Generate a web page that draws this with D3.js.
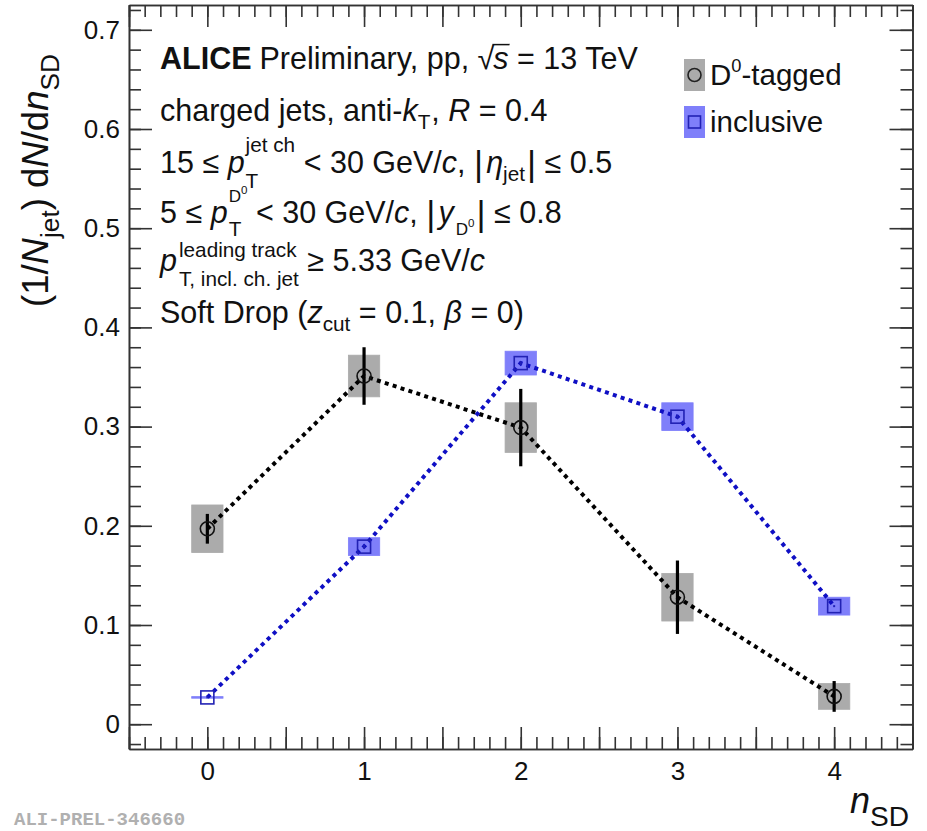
<!DOCTYPE html>
<html>
<head>
<meta charset="utf-8">
<script src="https://cdn.jsdelivr.net/npm/d3@7"></script>
<style>
  body { margin: 0; background: #fff; }
  svg { font-family: "Liberation Sans", Arial, Helvetica, sans-serif; }
  text { white-space: pre; }
</style>
</head>
<body>
<svg id="chart" width="927" height="831"></svg>
<script>
// values
const nSD = [0, 1, 2, 3, 4];
const d0Val = [0.197, 0.351, 0.299, 0.128, 0.028];
const d0Stat = [0.015, 0.029, 0.039, 0.037, 0.0155];
const d0Sys = [0.024, 0.021, 0.025, 0.024, 0.013];
const inclVal = [0.027, 0.179, 0.364, 0.310, 0.119];
const inclStat = [0.001, 0.002, 0.002, 0.002, 0.001];
const inclSys = [0.0008, 0.009, 0.012, 0.014, 0.009];
const xTicks = [0, 1, 2, 3, 4];
const yTicks = [0, 0.1, 0.2, 0.3, 0.4, 0.5, 0.6, 0.7];

const svg = d3.select("#chart");
svg.append("rect").attr("width", 927).attr("height", 831).attr("fill", "#fff");

const x = d3.scaleLinear().domain([-0.5, 4.5]).range([129, 912.5]);
const y = d3.scaleLinear().domain([-0.025, 0.725]).range([749, 5]);

const axisColor = "#333";
const boxHalf = 0.1; // half width of systematic boxes in n_SD units

// small helper to lay out ROOT-like latex pieces
function place(g, x0, y0, items, size) {
    let cx = x0;
    items.forEach(it => {
        if (it.stack) {
            let w = 0;
            it.stack.forEach(part => {
                w = Math.max(w, place(g, cx + (part.dx || 0), y0, part.items, size) - cx);
            });
            cx += w;
        } else {
            const t = g.append("text")
                .attr("x", cx + (it.dx || 0))
                .attr("y", y0 + (it.dy || 0))
                .style("font-size", (it.s || 1) * size + "px")
                .style("font-style", it.i ? "italic" : "normal")
                .style("font-weight", it.b ? "bold" : "normal")
                .text(it.t);
            cx += t.node().getComputedTextLength() + (it.dx || 0) + (it.after || 0);
        }
    });
    return cx;
}

// ---- axes ----
function minorVals(step, lo, hi) {
    const out = [];
    for (let v = Math.ceil(lo / step) * step; v <= hi + 1e-9; v += step) out.push(+v.toFixed(4));
    return out;
}
const xMinor = minorVals(0.1, -0.5, 4.5);
const xHalf = minorVals(0.5, -0.5, 4.5);
const yMinor = minorVals(0.02, -0.025, 0.725);

function styleAxis(sel) {
    sel.selectAll("path, line").attr("stroke", axisColor).attr("stroke-width", 1.6);
    sel.selectAll("text").attr("fill", "#111").style("font-size", "26px")
        .style("font-family", "'Liberation Sans', Arial, sans-serif");
}

svg.append("g").attr("transform", "translate(0,749)")
    .call(d3.axisBottom(x).tickValues(xMinor).tickSizeInner(-12).tickSizeOuter(0).tickFormat(""))
    .call(styleAxis);
svg.append("g").attr("transform", "translate(0,749)")
    .call(d3.axisBottom(x).tickValues(xHalf).tickSizeInner(-22).tickSizeOuter(0).tickPadding(13)
        .tickFormat(d => xTicks.includes(d) ? d3.format("d")(d) : ""))
    .call(styleAxis);
svg.append("g").attr("transform", "translate(0,5)")
    .call(d3.axisTop(x).tickValues(xMinor).tickSizeInner(-12).tickSizeOuter(0).tickFormat(""))
    .call(styleAxis);
svg.append("g").attr("transform", "translate(0,5)")
    .call(d3.axisTop(x).tickValues(xHalf).tickSizeInner(-22).tickSizeOuter(0).tickFormat(""))
    .call(styleAxis);

svg.append("g").attr("transform", "translate(129,0)")
    .call(d3.axisLeft(y).tickValues(yMinor).tickSizeInner(-12).tickSizeOuter(0).tickFormat(""))
    .call(styleAxis);
svg.append("g").attr("transform", "translate(129,0)")
    .call(d3.axisLeft(y).tickValues(yTicks).tickSizeInner(-23).tickSizeOuter(0).tickPadding(9)
        .tickFormat(d => d === 0 ? "0" : d3.format(".1f")(d)))
    .call(styleAxis);
svg.append("g").attr("transform", "translate(912.5,0)")
    .call(d3.axisRight(y).tickValues(yMinor).tickSizeInner(-12).tickSizeOuter(0).tickFormat(""))
    .call(styleAxis);
svg.append("g").attr("transform", "translate(912.5,0)")
    .call(d3.axisRight(y).tickValues(yTicks).tickSizeInner(-23).tickSizeOuter(0).tickFormat(""))
    .call(styleAxis);

// ---- axis titles ----
const ytitle = svg.append("g").attr("transform", "translate(48,307) rotate(-90)").attr("fill", "#111");
place(ytitle, 0, 0, [
    { t: "(1/" },
    { t: "N", i: true },
    { t: "jet", s: 0.72, dy: 11 },
    { t: ") d" },
    { t: "N", i: true },
    { t: "/d" },
    { t: "n", i: true },
    { t: "SD", s: 0.72, dy: 11 }
], 36.5);

const xtitle = svg.append("g").attr("fill", "#111");
place(xtitle, 850, 813, [
    { t: "n", i: true, s: 1 },
    { t: "SD", s: 0.78, dy: 13 }
], 36);

// ---- data ----
const d0 = nSD.map((n, k) => ({ n, v: d0Val[k], stat: d0Stat[k], sys: d0Sys[k] }));
const incl = nSD.map((n, k) => ({ n, v: inclVal[k], stat: inclStat[k], sys: inclSys[k] }));

const plot = svg.append("g");

function drawBoxes(data, fill) {
    plot.append("g").selectAll("rect").data(data).enter().append("rect")
        .attr("x", d => x(d.n - boxHalf))
        .attr("width", d => x(d.n + boxHalf) - x(d.n - boxHalf))
        .attr("y", d => y(d.v + d.sys))
        .attr("height", d => Math.max(y(d.v - d.sys) - y(d.v + d.sys), 1.5))
        .attr("fill", fill)
        .attr("stroke", fill)
        .attr("stroke-width", 0.8);
}
drawBoxes(d0, "#ababab");
drawBoxes(incl, "#7f7ffa");

const line = d3.line().x(d => x(d.n)).y(d => y(d.v));
plot.append("path").datum(d0).attr("d", line)
    .attr("fill", "none").attr("stroke", "#000").attr("stroke-width", 4)
    .attr("stroke-dasharray", "4 4.3");
plot.append("path").datum(incl).attr("d", line)
    .attr("fill", "none").attr("stroke", "#0f0fc4").attr("stroke-width", 4)
    .attr("stroke-dasharray", "4 4.3");

// stat error bars
plot.append("g").selectAll("line").data(d0).enter().append("line")
    .attr("x1", d => x(d.n)).attr("x2", d => x(d.n))
    .attr("y1", d => y(d.v + d.stat)).attr("y2", d => y(d.v - d.stat))
    .attr("stroke", "#000").attr("stroke-width", 3.2);
plot.append("g").selectAll("line").data(incl).enter().append("line")
    .attr("x1", d => x(d.n)).attr("x2", d => x(d.n))
    .attr("y1", d => y(d.v + d.stat)).attr("y2", d => y(d.v - d.stat))
    .attr("stroke", "#2020b8").attr("stroke-width", 2);

// markers
plot.append("g").selectAll("circle").data(d0).enter().append("circle")
    .attr("cx", d => x(d.n)).attr("cy", d => y(d.v)).attr("r", 7)
    .attr("fill", "none").attr("stroke", "#111").attr("stroke-width", 1.6);
plot.append("g").selectAll("rect").data(incl).enter().append("rect")
    .attr("x", d => x(d.n) - 6.5).attr("y", d => y(d.v) - 6.5)
    .attr("width", 13).attr("height", 13)
    .attr("fill", "none").attr("stroke", "#2222b4").attr("stroke-width", 1.6);

// ---- legend ----
const legend = svg.append("g").attr("fill", "#111");
const legendRows = [
    { fill: "#ababab", marker: "circle", y: 75, label: [{ t: "D" }, { t: "0", s: 0.62, dy: -13 }, { t: "-tagged" }] },
    { fill: "#7f7ffa", marker: "square", y: 122, label: [{ t: "inclusive" }] }
];
legendRows.forEach(r => {
    legend.append("rect").attr("x", 684).attr("y", r.y - 16).attr("width", 21).attr("height", 32).attr("fill", r.fill);
    if (r.marker === "circle") {
        legend.append("circle").attr("cx", 694.5).attr("cy", r.y).attr("r", 6.5)
            .attr("fill", "none").attr("stroke", "#222").attr("stroke-width", 1.6);
    } else {
        legend.append("rect").attr("x", 688.5).attr("y", r.y - 6).attr("width", 12).attr("height", 12)
            .attr("fill", "none").attr("stroke", "#2222b4").attr("stroke-width", 1.6);
    }
    place(legend, 710, r.y + 10, r.label, 29.5);
});

// ---- text block ----
const info = svg.append("g").attr("fill", "#111");
const fs = 30.5;
let cx = place(info, 160, 69, [
    { t: "ALICE", b: true, after: 8 },
    { t: "Preliminary, pp, " },
    { t: "√", after: -1 }
], fs);
const sEnd = place(info, cx, 69, [{ t: "s", i: true }], fs);
// overline of the square root
info.append("line").attr("x1", cx - 1).attr("x2", sEnd + 1)
    .attr("y1", 69 - fs * 0.8).attr("y2", 69 - fs * 0.8)
    .attr("stroke", "#111").attr("stroke-width", 1.5);
place(info, sEnd, 69, [{ t: " = 13 TeV" }], fs);

place(info, 160, 121, [
    { t: "charged jets, anti-" },
    { t: "k", i: true },
    { t: "T", s: 0.68, dy: 8, after: 1 },
    { t: ", " },
    { t: "R", i: true },
    { t: " = 0.4" }
], fs);

place(info, 160, 173, [
    { t: "15 ≤ " },
    { t: "p", i: true, after: 1 },
    { stack: [
        { items: [{ t: "jet ch", s: 0.68, dy: -21 }] },
        { dx: 0, items: [{ t: "T", s: 0.68, dy: 15 }] }
    ] },
    { t: " < 30 GeV/" },
    { t: "c", i: true },
    { t: ", " },
    { t: "|", s: 1.15, dy: 3, after: 3 },
    { t: "η", i: true },
    { t: "jet", s: 0.68, dy: 8, after: 2 },
    { t: "|", s: 1.15, dy: 3 },
    { t: " ≤ 0.5" }
], fs);

place(info, 160, 223, [
    { t: "5 ≤ " },
    { t: "p", i: true, after: 1 },
    { stack: [
        { items: [{ t: "D", s: 0.56, dy: -21 }, { t: "0", s: 0.38, dy: -29 }] },
        { dx: 0, items: [{ t: "T", s: 0.68, dy: 13 }] }
    ] },
    { t: " < 30 GeV/" },
    { t: "c", i: true },
    { t: ", " },
    { t: "|", s: 1.15, dy: 3, after: 3 },
    { t: "y", i: true, after: 2 },
    { t: "D", s: 0.56, dy: 12 },
    { t: "0", s: 0.38, dy: 4, after: 2 },
    { t: "|", s: 1.15, dy: 3 },
    { t: " ≤ 0.8" }
], fs);

place(info, 160, 271, [
    { t: "p", i: true, after: 2 },
    { stack: [
        { items: [{ t: "leading track", s: 0.68, dy: -14 }] },
        { items: [{ t: "T, incl. ch. jet", s: 0.68, dy: 15 }] }
    ] },
    { t: " ≥ 5.33 GeV/" },
    { t: "c", i: true }
], fs);

place(info, 160, 323, [
    { t: "Soft Drop (" },
    { t: "z", i: true },
    { t: "cut", s: 0.68, dy: 8 },
    { t: " = 0.1, " },
    { t: "β", i: true },
    { t: " = 0)" }
], fs);

// ---- figure id ----
svg.append("text").attr("x", 14).attr("y", 825)
    .style("font-family", "'Liberation Mono', 'DejaVu Sans Mono', monospace")
    .style("font-size", "19px").style("font-weight", "bold")
    .attr("fill", "#b0b0b0")
    .text("ALI-PREL-346660");
</script>
</body>
</html>
